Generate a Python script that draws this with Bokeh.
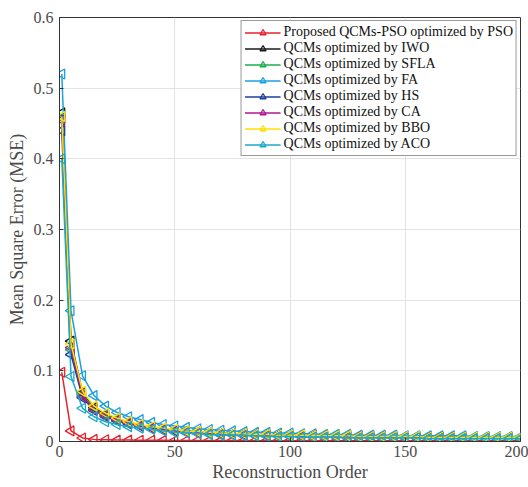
import numpy as np
from bokeh.plotting import figure
from bokeh.models import Range1d, FixedTicker, Legend
from bokeh.embed import file_html
from bokeh.resources import INLINE

order = [1, 5, 10, 15, 20, 25, 30, 35, 40, 45, 50, 55, 60, 65, 70, 75, 80, 85, 90, 95, 100,
         105, 110, 115, 120, 125, 130, 135, 140, 145, 150, 155, 160, 165, 170, 175, 180, 185, 190, 195, 200]

mse_pso = [0.098, 0.015, 0.005, 0.003, 0.0025, 0.002, 0.002, 0.0018, 0.0017, 0.0016, 0.0015, 0.0015, 0.0014,
           0.0014, 0.0013, 0.0013, 0.0013, 0.0012, 0.0012, 0.0012, 0.0012, 0.0011, 0.0011, 0.0011, 0.0011,
           0.0011, 0.0011, 0.001, 0.001, 0.001, 0.001, 0.001, 0.001, 0.001, 0.001, 0.001, 0.001, 0.001,
           0.001, 0.001, 0.001]
mse_iwo = [0.465, 0.142, 0.069, 0.048, 0.038, 0.032, 0.027, 0.023, 0.020, 0.018, 0.016, 0.015, 0.014,
           0.013, 0.012, 0.011, 0.011, 0.010, 0.010, 0.009, 0.009, 0.009, 0.008, 0.008, 0.008, 0.008,
           0.007, 0.007, 0.007, 0.007, 0.007, 0.007, 0.006, 0.006, 0.006, 0.006, 0.006, 0.006, 0.006,
           0.006, 0.006]
mse_sfla = [0.458, 0.130, 0.066, 0.046, 0.037, 0.031, 0.026, 0.022, 0.020, 0.018, 0.016, 0.015, 0.013,
            0.012, 0.012, 0.011, 0.010, 0.010, 0.009, 0.009, 0.009, 0.008, 0.008, 0.008, 0.008, 0.007,
            0.007, 0.007, 0.007, 0.007, 0.006, 0.006, 0.006, 0.006, 0.006, 0.006, 0.006, 0.006, 0.005,
            0.005, 0.005]
mse_fa = [0.520, 0.185, 0.093, 0.065, 0.050, 0.041, 0.035, 0.031, 0.027, 0.024, 0.022, 0.020, 0.018,
          0.017, 0.016, 0.015, 0.014, 0.013, 0.013, 0.012, 0.012, 0.011, 0.011, 0.010, 0.010, 0.010,
          0.009, 0.009, 0.009, 0.009, 0.008, 0.008, 0.008, 0.008, 0.008, 0.008, 0.007, 0.007, 0.007,
          0.007, 0.007]
mse_hs = [0.440, 0.123, 0.062, 0.044, 0.035, 0.029, 0.025, 0.022, 0.019, 0.017, 0.015, 0.014, 0.013,
          0.012, 0.011, 0.010, 0.010, 0.009, 0.009, 0.009, 0.008, 0.008, 0.008, 0.007, 0.007, 0.007,
          0.007, 0.007, 0.006, 0.006, 0.006, 0.006, 0.006, 0.006, 0.005, 0.005, 0.005, 0.005, 0.005,
          0.005, 0.005]
mse_ca = [0.455, 0.133, 0.064, 0.045, 0.036, 0.030, 0.026, 0.022, 0.020, 0.017, 0.016, 0.014, 0.013,
          0.012, 0.011, 0.011, 0.010, 0.010, 0.009, 0.009, 0.008, 0.008, 0.008, 0.008, 0.007, 0.007,
          0.007, 0.007, 0.007, 0.006, 0.006, 0.006, 0.006, 0.006, 0.006, 0.005, 0.005, 0.005, 0.005,
          0.005, 0.005]
mse_bbo = [0.460, 0.138, 0.071, 0.050, 0.040, 0.033, 0.028, 0.024, 0.021, 0.019, 0.017, 0.015, 0.014,
           0.013, 0.012, 0.011, 0.011, 0.010, 0.010, 0.009, 0.009, 0.009, 0.008, 0.008, 0.008, 0.008,
           0.007, 0.007, 0.007, 0.007, 0.007, 0.007, 0.006, 0.006, 0.006, 0.006, 0.006, 0.006, 0.006,
           0.006, 0.006]
mse_aco = [0.400, 0.092, 0.047, 0.035, 0.028, 0.024, 0.021, 0.019, 0.017, 0.015, 0.013, 0.012, 0.011,
           0.010, 0.009, 0.009, 0.008, 0.008, 0.007, 0.007, 0.007, 0.006, 0.006, 0.006, 0.006, 0.005,
           0.005, 0.005, 0.005, 0.005, 0.005, 0.005, 0.004, 0.004, 0.004, 0.004, 0.004, 0.004, 0.004,
           0.004, 0.004]

labels = ["Proposed QCMs-PSO optimized by PSO", "QCMs optimized by IWO", "QCMs optimized by SFLA",
          "QCMs optimized by FA", "QCMs optimized by HS", "QCMs optimized by CA",
          "QCMs optimized by BBO", "QCMs optimized by ACO"]
series = [mse_pso, mse_iwo, mse_sfla, mse_fa, mse_hs, mse_ca, mse_bbo, mse_aco]
colors = ["#e8202a", "#1a1a1a", "#19b04b", "#1aa0e0", "#1c3f9c", "#b0178f", "#ffe000", "#18aac8"]

y_ticks = [0, 0.1, 0.2, 0.3, 0.4, 0.5, 0.6]
x_ticks = [0, 50, 100, 150, 200]

FONT = "Liberation Serif"

p = figure(width=528, height=487, output_backend="svg", toolbar_location=None,
           x_range=Range1d(0, 200), y_range=Range1d(0, 0.6),
           min_border_left=59, min_border_right=8, min_border_top=17, min_border_bottom=46)

p.background_fill_color = "white"
p.border_fill_color = "white"
p.outline_line_color = "#333333"
p.outline_line_width = 1

p.xaxis.ticker = FixedTicker(ticks=x_ticks)
p.yaxis.ticker = FixedTicker(ticks=y_ticks)
for ax in (p.xaxis[0], p.yaxis[0]):
    ax.major_label_text_font = FONT
    ax.major_label_text_font_size = "16px"
    ax.major_label_text_color = "#4a4a4a"
    ax.axis_label_text_font = FONT
    ax.axis_label_text_font_size = "18px"
    ax.axis_label_text_font_style = "normal"
    ax.axis_label_text_color = "#4a4a4a"
    ax.axis_line_color = "#333333"
    ax.major_tick_in = 4
    ax.major_tick_out = 0
    ax.major_tick_line_color = "#333333"
    ax.minor_tick_line_color = None
p.xaxis.axis_label = "Reconstruction Order"
p.yaxis.axis_label = "Mean Square Error (MSE)"
p.xaxis.axis_label_standoff = 2
p.yaxis.axis_label_standoff = 4
p.xaxis.major_label_standoff = 4
p.yaxis.major_label_standoff = 6

p.xgrid.grid_line_color = "#e3e3e3"
p.ygrid.grid_line_color = "#e3e3e3"

items = []
for lab, ys, c in zip(labels, series, colors):
    r1 = p.line(order, ys, line_color=c, line_width=1.5)
    r2 = p.scatter(order, ys, marker="triangle", angle=np.pi / 2, size=10,
                   line_color=c, fill_color=None, line_width=1.3)
    items.append((lab, [r1, r2]))

legend = Legend(items=items, location="top_right")
legend.label_text_font = FONT
legend.label_text_font_size = "14px"
legend.label_text_color = "#111111"
legend.spacing = 0
legend.glyph_height = 15
legend.glyph_width = 36
legend.label_height = 15
legend.label_standoff = 3
legend.padding = 3
legend.margin = 3
legend.border_line_color = "#333333"
legend.border_line_width = 1
legend.background_fill_alpha = 1
p.add_layout(legend, "center")

open("out.html", "w").write(file_html(p, INLINE))
